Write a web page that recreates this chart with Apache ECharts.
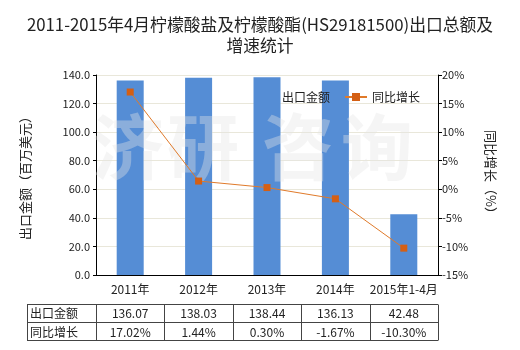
<!DOCTYPE html>
<html><head><meta charset="utf-8">
<script src="https://cdn.jsdelivr.net/npm/echarts@6/dist/echarts.min.js"></script>
<style>html,body{margin:0;padding:0;background:#fff}#c{width:520px;height:350px}</style>
</head><body><div id="c"></div>
<script>
var categories = ['2011年', '2012年', '2013年', '2014年', '2015年1-4月'];
var exportValues = [136.07, 138.03, 138.44, 136.13, 42.48];
var growthValues = [17.02, 1.44, 0.30, -1.67, -10.30];
var seriesNames = ['出口金额', '同比增长'];
var leftTicks = { min: 0, max: 140, interval: 20 };
var rightTicks = { min: -15, max: 20, interval: 5 };
var titleText = '2011-2015年4月柠檬酸盐及柠檬酸酯(HS29181500)出口总额及\n增速统计';
var watermarkChars = ['济', '研', '咨', '询'];

var FONT = '"Noto Sans CJK SC", "Microsoft YaHei", sans-serif';
var chart = echarts.init(document.getElementById('c'));

var gridLeft = 96, gridRight = 438, gridTop = 75, gridBottom = 275;
var tableTop = 303.5, rowH = 18.3, tableLeft = 27;
var colW = (gridRight - gridLeft) / categories.length;

var graphics = [];
var wmX = [128, 203, 298, 377];
watermarkChars.forEach(function (ch, i) {
  graphics.push({
    type: 'text', z: 2, x: wmX[i], y: 147,
    style: { text: ch, fill: 'rgba(228,228,228,0.38)', font: 'bold 72px ' + FONT, textAlign: 'center', textVerticalAlign: 'middle' }
  });
});
var rows = [
  { label: seriesNames[0], vals: exportValues.map(function (v) { return v.toFixed(2); }) },
  { label: seriesNames[1], vals: growthValues.map(function (v) { return v.toFixed(2) + '%'; }) }
];
var lineStyle = { stroke: '#444', lineWidth: 1 };
var tableBottom = tableTop + rowH * rows.length;
for (var r = 0; r <= rows.length; r++) {
  var y = Math.round(tableTop + r * rowH) + 0.5;
  graphics.push({ type: 'line', shape: { x1: tableLeft, y1: y, x2: gridRight, y2: y }, style: lineStyle });
}
var xs = [tableLeft];
for (var c = 0; c <= categories.length; c++) xs.push(gridLeft + c * colW);
xs.forEach(function (x) {
  var xx = Math.round(x) + 0.5;
  graphics.push({ type: 'line', shape: { x1: xx, y1: Math.round(tableTop) + 0.5, x2: xx, y2: Math.round(tableBottom) + 0.5 }, style: lineStyle });
});
rows.forEach(function (row, ri) {
  var cy = tableTop + ri * rowH + rowH / 2 + 1;
  graphics.push({ type: 'text', x: tableLeft + 3, y: cy, style: { text: row.label, fill: '#222', font: '12px ' + FONT, textAlign: 'left', textVerticalAlign: 'middle' } });
  row.vals.forEach(function (v, ci) {
    graphics.push({ type: 'text', x: gridLeft + colW * (ci + 0.5), y: cy, style: { text: v, fill: '#222', font: '12px ' + FONT, textAlign: 'center', textVerticalAlign: 'middle' } });
  });
});

chart.setOption({
  animation: false,
  backgroundColor: '#fff',
  title: {
    text: titleText, left: 'center', top: 9,
    textStyle: { fontFamily: FONT, fontSize: 16.8, fontWeight: 'normal', color: '#222', lineHeight: 21 }
  },
  legend: {
    left: 250, top: 86, itemGap: 14, itemWidth: 22, itemHeight: 10,
    textStyle: { fontFamily: FONT, fontSize: 12, color: '#222' },
    data: [{ name: seriesNames[0], icon: 'rect' }, { name: seriesNames[1] }]
  },
  grid: { left: gridLeft, right: 520 - gridRight, top: gridTop, bottom: 350 - gridBottom, containLabel: false },
  xAxis: {
    type: 'category', data: categories,
    axisLine: { lineStyle: { color: '#000' } },
    axisTick: { alignWithLabel: true, length: 5, lineStyle: { color: '#000' } },
    axisLabel: { fontFamily: FONT, fontSize: 12, color: '#222', margin: 8, interval: 0 }
  },
  yAxis: [{
    type: 'value', min: leftTicks.min, max: leftTicks.max, interval: leftTicks.interval,
    name: '出口金额（百万美元）', nameLocation: 'middle', nameGap: 64, nameRotate: 90,
    nameTextStyle: { fontFamily: FONT, fontSize: 13, color: '#222' },
    axisLine: { show: true, lineStyle: { color: '#000' } },
    axisTick: { show: true, length: 3, lineStyle: { color: '#000' } },
    axisLabel: { fontFamily: FONT, fontSize: 11, color: '#222', margin: 6, formatter: function (v) { return v.toFixed(1); } },
    splitLine: { lineStyle: { color: '#E9E7DA' } }
  }, {
    type: 'value', min: rightTicks.min, max: rightTicks.max, interval: rightTicks.interval,
    name: '同比增长（%）', nameLocation: 'middle', nameGap: 46, nameRotate: -90,
    nameTextStyle: { fontFamily: FONT, fontSize: 13, color: '#222' },
    axisLine: { show: true, lineStyle: { color: '#000' } },
    axisTick: { show: true, length: 4, lineStyle: { color: '#000' } },
    axisLabel: { fontFamily: FONT, fontSize: 11, color: '#222', margin: 4, formatter: '{value}%' },
    splitLine: { show: false }
  }],
  series: [{
    name: seriesNames[0], type: 'bar', data: exportValues, barWidth: 27, z: 1,
    itemStyle: { color: '#558DD5' }
  }, {
    name: seriesNames[1], type: 'line', yAxisIndex: 1, data: growthValues, z: 5,
    symbol: 'rect', symbolSize: 7,
    lineStyle: { color: '#E07A2A', width: 1 },
    itemStyle: { color: '#D45F14' }
  }],
  graphic: graphics
});
</script></body></html>
